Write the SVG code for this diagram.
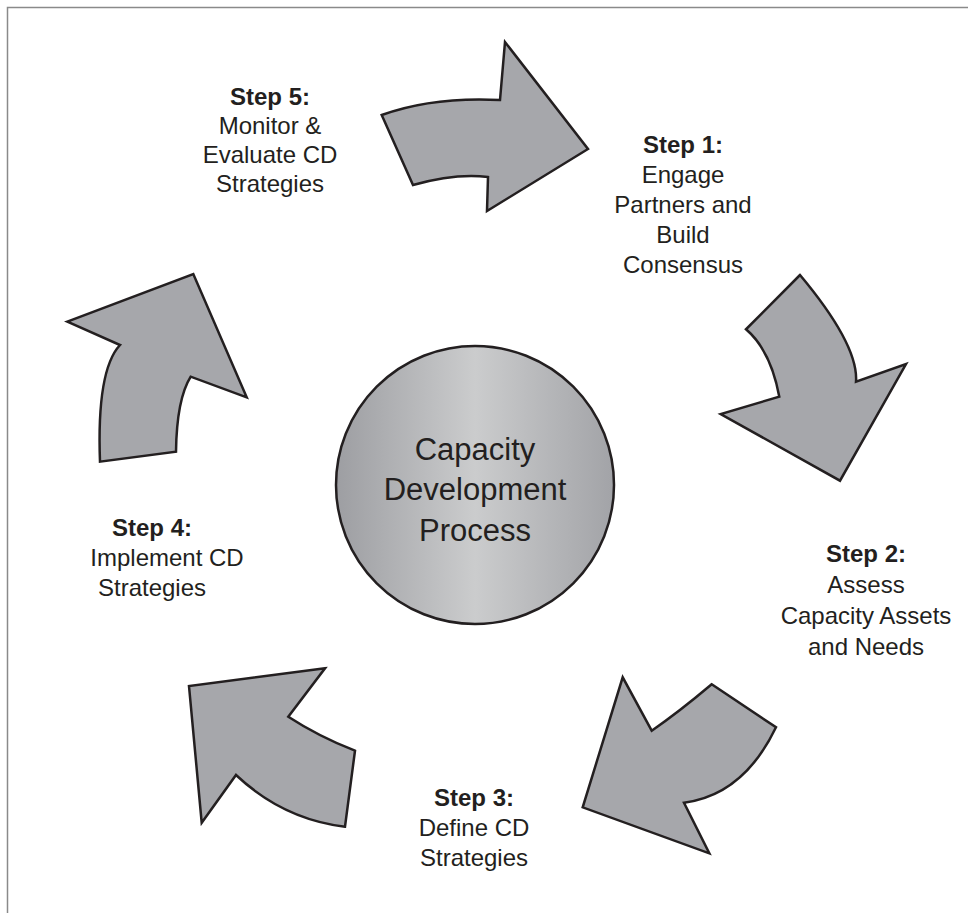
<svg xmlns="http://www.w3.org/2000/svg" width="968" height="913" viewBox="0 0 968 913">
  <defs>
    <linearGradient id="hubFill" x1="0" y1="0" x2="1" y2="0">
      <stop offset="0" stop-color="#9d9ea2"/>
      <stop offset="0.5" stop-color="#cbcccd"/>
      <stop offset="1" stop-color="#a2a3a7"/>
    </linearGradient>
  </defs>
  <style>
    .frame { fill: none; stroke: #8a8a8a; stroke-width: 1.5; }
    .arrow { fill: #a6a7ab; stroke: #231f20; stroke-width: 2.5; stroke-linejoin: miter; }
    .hub { fill: url(#hubFill); stroke: #231f20; stroke-width: 2.5; }
    .hub-text { font-family: "Liberation Sans", Arial, sans-serif; font-size: 31px; fill: #231f20; text-anchor: middle; }
    .label { font-family: "Liberation Sans", Arial, sans-serif; font-size: 24px; fill: #231f20; text-anchor: middle; }
    .label .head { font-weight: bold; }
  </style>

  <!-- outer frame (top and left edges) -->
  <path class="frame" d="M7.5,913 V7.5 H968"/>

  <!-- cycle arrows -->
  <g id="connectors">
    <path id="arrow-5-1" class="arrow" d="M381.7,115 Q433,96.5 500,100 L505,42 L588,149 L487,211 L488,177 Q455.5,173 413,185 Z"/>
    <path id="arrow-1-2" class="arrow" d="M800,275 L746,329.3 Q770.7,350.4 779.3,396.7 L720.7,414 L840,480.7 L906,364 L856,381.7 Q858.6,345 800,275 Z"/>
    <path id="arrow-2-3" class="arrow" d="M711.7,684.3 L776,727.3 Q743.4,795 684,802.7 L709.3,853.3 L582.7,807.3 L622.7,677.3 L651.7,730.7 Q678.3,712.5 711.7,684.3 Z"/>
    <path id="arrow-3-4" class="arrow" d="M325,668.3 L189,686 L201.7,822.7 L236,775 Q282.9,819.2 345,826.7 L355,750.7 Q318.4,736.3 288.3,716.7 Z"/>
    <path id="arrow-4-5" class="arrow" d="M67.3,321.7 L193.3,274 L246.7,397.3 L190.7,376.7 Q176.7,399.2 176,451.7 L100,461.7 Q96.6,370 120,345 Z"/>
  </g>

  <!-- centre hub -->
  <g id="hub">
    <circle class="hub" cx="475" cy="485" r="139"/>
    <text class="hub-text" x="475" y="460">Capacity</text>
    <text class="hub-text" x="475" y="500">Development</text>
    <text class="hub-text" x="475" y="541">Process</text>
  </g>

  <!-- step labels -->
  <g id="step-1" class="label">
    <text x="683" y="153"><tspan class="head">Step 1:</tspan></text>
    <text x="683" y="183">Engage</text>
    <text x="683" y="213">Partners and</text>
    <text x="683" y="243">Build</text>
    <text x="683" y="273">Consensus</text>
  </g>

  <g id="step-2" class="label">
    <text x="866" y="562"><tspan class="head">Step 2:</tspan></text>
    <text x="866" y="593">Assess</text>
    <text x="866" y="624">Capacity Assets</text>
    <text x="866" y="655">and Needs</text>
  </g>

  <g id="step-3" class="label">
    <text x="474" y="806"><tspan class="head">Step 3:</tspan></text>
    <text x="474" y="836">Define CD</text>
    <text x="474" y="866">Strategies</text>
  </g>

  <g id="step-4" class="label">
    <text x="152" y="536"><tspan class="head">Step 4:</tspan></text>
    <text x="167" y="566">Implement CD</text>
    <text x="152" y="596">Strategies</text>
  </g>

  <g id="step-5" class="label">
    <text x="270" y="105"><tspan class="head">Step 5:</tspan></text>
    <text x="270" y="134">Monitor &amp;</text>
    <text x="270" y="163">Evaluate CD</text>
    <text x="270" y="192">Strategies</text>
  </g>
</svg>
